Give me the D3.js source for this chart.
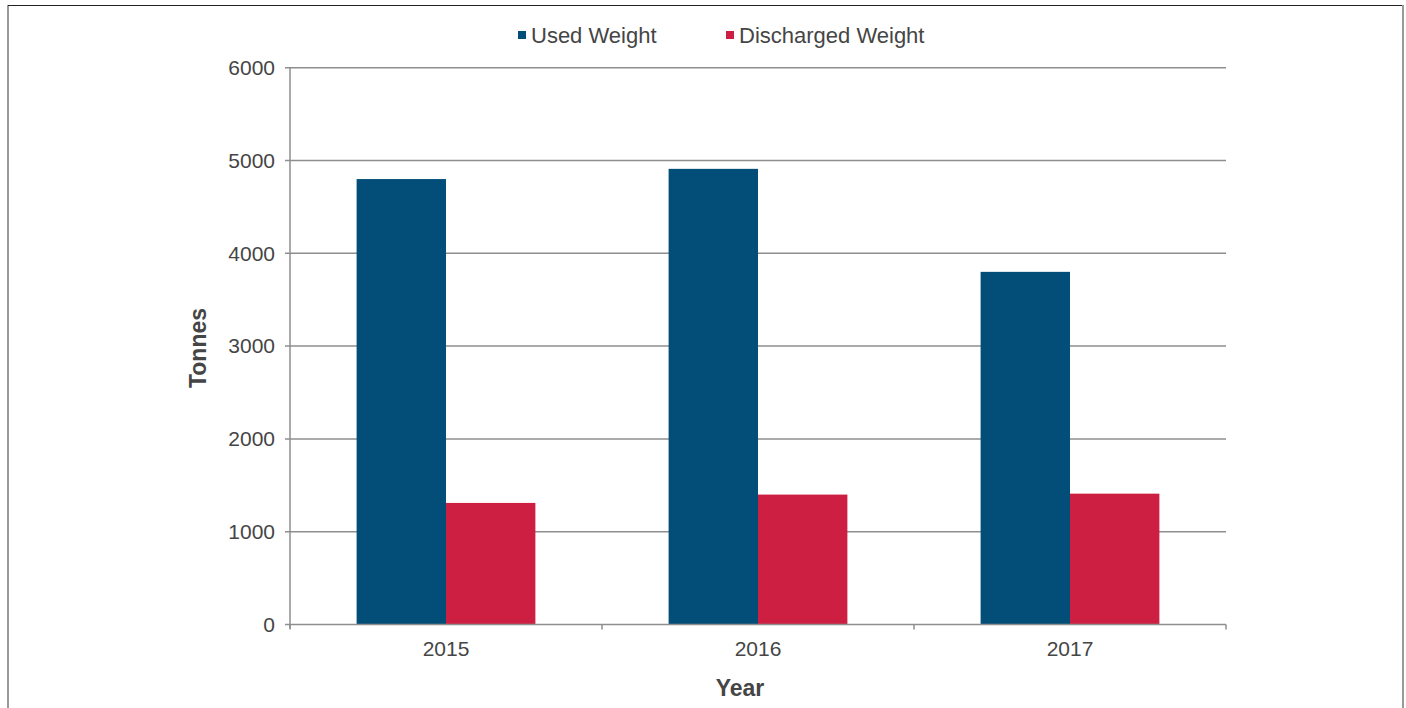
<!DOCTYPE html>
<html>
<head>
<meta charset="utf-8">
<script src="https://cdn.jsdelivr.net/npm/d3@7"></script>
<style>
  body { margin: 0; background: #fff; }
  svg { display: block; font-family: "Liberation Sans", Arial, sans-serif; }
</style>
</head>
<body>
<svg width="1406" height="708"></svg>
<script>
var years = ["2015", "2016", "2017"];
var seriesNames = ["Used Weight", "Discharged Weight"];
var usedWeight = [4800, 4910, 3800];
var dischargedWeight = [1310, 1400, 1410];
var yTicks = [0, 1000, 2000, 3000, 4000, 5000, 6000];
var colors = ["#034e78", "#cd1f41"];

var svg = d3.select("svg");
var plotLeft = 290, plotRight = 1226, plotTop = 67.7, plotBottom = 624.5;
var textCol = "#454545", gridCol = "#8e8e8e";

// frame
svg.append("line").attr("x1", 8).attr("x2", 8).attr("y1", 5).attr("y2", 708)
  .attr("stroke", "#999").attr("stroke-width", 2);
svg.append("line").attr("x1", 8).attr("x2", 1404).attr("y1", 5.5).attr("y2", 5.5)
  .attr("stroke", "#222").attr("stroke-width", 1.2);
svg.append("line").attr("x1", 1403).attr("x2", 1403).attr("y1", 5).attr("y2", 708)
  .attr("stroke", "#999").attr("stroke-width", 2);

var x0 = d3.scaleBand().domain(years).range([plotLeft, plotRight]);
var bw = x0.bandwidth();
var gw = bw * 0.573;
var x1 = d3.scaleBand().domain(seriesNames).range([(bw - gw) / 2, (bw + gw) / 2]);
var y = d3.scaleLinear().domain([0, 6000]).range([plotBottom, plotTop]);

// gridlines
svg.append("g").selectAll("line").data(yTicks.filter(function(d) { return d > 0; }))
  .enter().append("line")
  .attr("x1", plotLeft - 5).attr("x2", plotRight)
  .attr("y1", function(d) { return y(d); }).attr("y2", function(d) { return y(d); })
  .attr("stroke", gridCol).attr("stroke-width", 1.5);

// y labels
svg.append("g").selectAll("text").data(yTicks).enter().append("text")
  .attr("x", 275).attr("y", function(d) { return y(d); })
  .attr("dy", "0.35em").attr("text-anchor", "end")
  .attr("font-size", 21).attr("fill", textCol)
  .text(function(d) { return d; });

// bars
var data = years.map(function(yr, i) {
  return { year: yr, vals: [usedWeight[i], dischargedWeight[i]] };
});
var groups = svg.append("g").selectAll("g").data(data).enter().append("g")
  .attr("transform", function(d) { return "translate(" + x0(d.year) + ",0)"; });
groups.selectAll("rect").data(function(d) { return d.vals; }).enter().append("rect")
  .attr("x", function(d, i) { return x1(seriesNames[i]); })
  .attr("width", x1.bandwidth())
  .attr("y", function(d) { return y(d); })
  .attr("height", function(d) { return plotBottom - y(d); })
  .attr("fill", function(d, i) { return colors[i]; });

// axes lines
svg.append("line").attr("x1", plotLeft).attr("x2", plotLeft).attr("y1", plotTop).attr("y2", plotBottom + 4)
  .attr("stroke", gridCol).attr("stroke-width", 1.5);
svg.append("line").attr("x1", plotLeft - 5).attr("x2", plotRight).attr("y1", plotBottom).attr("y2", plotBottom)
  .attr("stroke", gridCol).attr("stroke-width", 1.5);
var bounds = years.map(function(d) { return x0(d); }).concat([plotRight]);
svg.append("g").selectAll("line").data(bounds).enter().append("line")
  .attr("x1", function(d) { return d; }).attr("x2", function(d) { return d; })
  .attr("y1", plotBottom).attr("y2", plotBottom + 5)
  .attr("stroke", gridCol).attr("stroke-width", 1.5);

// x labels
svg.append("g").selectAll("text").data(years).enter().append("text")
  .attr("x", function(d) { return x0(d) + bw / 2; }).attr("y", 656)
  .attr("text-anchor", "middle").attr("font-size", 21).attr("fill", textCol)
  .text(function(d) { return d; });

// axis titles
svg.append("text").attr("x", 740).attr("y", 696).attr("text-anchor", "middle")
  .attr("font-size", 23).attr("font-weight", "bold").attr("fill", textCol).text("Year");
svg.append("text").attr("transform", "translate(206,348) rotate(-90)")
  .attr("text-anchor", "middle").attr("font-size", 23).attr("font-weight", "bold")
  .attr("fill", textCol).text("Tonnes");

// legend
var legX = [518, 726];
var leg = svg.append("g").selectAll("g").data(seriesNames).enter().append("g")
  .attr("transform", function(d, i) { return "translate(" + legX[i] + ",31)"; });
leg.append("rect").attr("width", 8).attr("height", 8)
  .attr("fill", function(d, i) { return colors[i]; });
leg.append("text").attr("x", 13).attr("y", 4).attr("dy", "0.35em")
  .attr("font-size", 22).attr("fill", textCol).text(function(d) { return d; });
</script>
</body>
</html>
